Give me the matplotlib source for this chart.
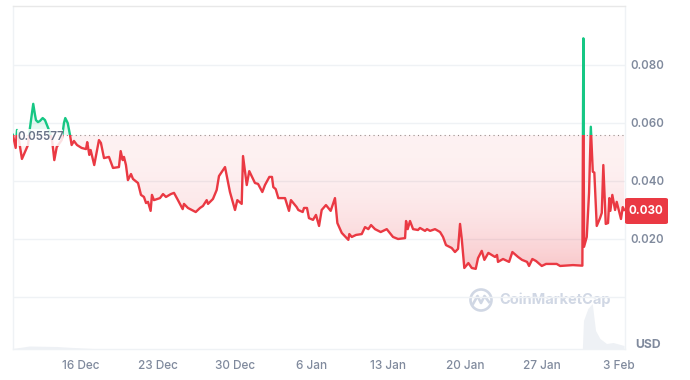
import matplotlib
matplotlib.use('Agg')
import matplotlib.pyplot as plt
import numpy as np
from matplotlib.patches import FancyBboxPatch, Circle, Rectangle
from matplotlib.lines import Line2D

plt.rcParams['font.family'] = ['Inter', 'DejaVu Sans']

# days since 16 Dec
days = [-6.20, -5.95, -5.83, -5.65, -5.38, -5.11, -4.83, -4.65, -4.35, -4.19, -4.10, -3.92, -3.74, -3.49, -3.28,
        -3.10, -2.92, -2.64, -2.53, -2.43, -2.21, -1.76, -1.55, -1.43, -1.21, -1.00, -0.85, -0.64, -0.36, 0.06,
        0.46, 0.57, 0.76, 0.88, 1.21, 1.64, 1.82, 2.10, 2.55, 2.92, 3.46, 3.62, 3.80, 3.92, 4.10,
        4.28, 4.56, 4.74, 5.20, 5.47, 5.74, 5.93, 6.11, 6.35, 6.47, 6.65, 7.20, 7.48, 7.75, 8.20,
        8.48, 8.84, 9.27, 9.39, 9.75, 10.46, 10.85, 11.12, 11.46, 11.58, 12.03, 12.37, 12.58, 13.13, 13.58,
        14.04, 14.25, 14.65, 14.77, 15.11, 15.34, 15.65, 15.86, 16.14, 16.53, 16.77, 17.17, 17.41, 17.53, 17.75,
        17.99, 18.60, 18.96, 19.14, 19.66, 19.81, 20.21, 20.33, 20.60, 20.78, 21.15, 21.42, 21.70, 21.94, 22.33,
        22.76, 23.15, 23.37, 23.77, 24.37, 24.46, 24.68, 25.07, 25.59, 25.89, 26.19, 26.44, 26.80, 27.32, 27.87,
        28.44, 28.90, 29.54, 29.63, 29.78, 29.99, 30.27, 30.72, 30.90, 31.36, 31.54, 31.82, 32.27, 32.73, 33.00,
        33.27, 33.79, 34.09, 34.37, 34.55, 34.70, 34.94, 35.31, 35.62, 35.98, 36.19, 36.53, 36.77, 37.13, 37.74,
        37.92, 38.01, 38.47, 39.02, 39.32, 39.84, 40.20, 40.66, 40.84, 41.14, 41.48, 42.00, 42.39, 43.36, 43.67,
        44.85, 45.70, 45.79, 45.85, 46.10, 46.31, 46.47, 46.65, 46.79, 47.01, 47.31, 47.47, 47.61, 47.83, 48.04,
        48.16, 48.25, 48.43, 48.68, 48.83, 49.22, 49.38, 49.52]
prices = [.0559, .0514, .0576, .0541, .0476, .0500, .0524, .0583, .0666, .0628, .0610, .0603, .0607, .0617, .0610,
          .0593, .0576, .0541, .0507, .0472, .0517, .0541, .0600, .0617, .0600, .0559, .0524, .0538, .0524, .0514,
          .0510, .0534, .0490, .0507, .0455, .0541, .0531, .0479, .0483, .0445, .0448, .0503, .0472, .0483, .0455,
          .0403, .0424, .0407, .0393, .0352, .0345, .0324, .0328, .0297, .0352, .0334, .0341, .0355, .0345, .0355,
          .0359, .0334, .0303, .0321, .0307, .0293, .0307, .0314, .0334, .0321, .0338, .0369, .0417, .0448, .0362,
          .0300, .0334, .0321, .0486, .0386, .0434, .0410, .0393, .0390, .0362, .0386, .0414, .0414, .0379, .0372,
          .0341, .0341, .0297, .0334, .0310, .0300, .0293, .0307, .0307, .0272, .0266, .0283, .0245, .0300, .0317,
          .0297, .0341, .0255, .0221, .0197, .0217, .0207, .0214, .0217, .0241, .0234, .0248, .0234, .0224, .0234,
          .0207, .0200, .0203, .0262, .0234, .0262, .0234, .0231, .0238, .0228, .0234, .0228, .0234, .0224, .0207,
          .0179, .0169, .0155, .0166, .0252, .0203, .0100, .0117, .0100, .0097, .0134, .0159, .0128, .0152, .0138,
          .0145, .0121, .0131, .0121, .0155, .0138, .0128, .0121, .0107, .0131, .0124, .0107, .0114, .0114, .0107,
          .0110, .0108, .0892, .0173, .0207, .0359, .0587, .0432, .0429, .0245, .0272, .0290, .0455, .0252, .0255,
          .0341, .0297, .0352, .0300, .0328, .0269, .0310, .0300]

vol_days = [-6.24, -4.7, -2.2, -1.0, 1.1, 45.7, 45.8, 46.2, 46.6, 46.9, 47.3, 47.9, 48.5, 49.5]
volumes = [0, 2.5, 2, 1.2, 0, 0, 28, 40, 45, 18, 10, 5, 6, 3]

base_price = 0.05577
last_price = '0.030'
y_ticks = [0.0, 0.02, 0.04, 0.06, 0.08]
y_labels = ['', '0.020', '0.040', '0.060', '0.080']
x_ticks = [0, 7, 14, 21, 28, 35, 42, 49]
x_labels = ['16 Dec', '23 Dec', '30 Dec', '6 Jan', '13 Jan', '20 Jan', '27 Jan', '3 Feb']

RED = '#ea3943'
GREEN = '#16c784'
GREY = '#808a9d'
GRID = '#eff2f5'

days = np.array(days)
prices = np.array(prices)

fig = plt.figure(figsize=(6.9, 3.8), dpi=100)
ax = fig.add_axes([12.5 / 690, 1 - 348.5 / 380, 612 / 690, 342.5 / 380])
ax.set_xlim(-6.24, 49.54)
ax.set_ylim(-0.01776, 0.10034)
ax.set_zorder(2)
ax.patch.set_alpha(0)

# volume pane, own scale in the bottom part
vax = fig.add_axes(ax.get_position(), sharex=ax)
vax.set_ylim(0, 342.5)
vax.set_axis_off()
vax.set_zorder(1)
vax.fill_between(vol_days, volumes, 0, color='#eef1f5', lw=0, zorder=1)
ax.set_xlim(-6.24, 49.54)

for s in ['left', 'right', 'bottom']:
    ax.spines[s].set_color(GRID)
    ax.spines[s].set_linewidth(1)
ax.spines['top'].set_color('#e8e8e8')
ax.spines['top'].set_linewidth(1)

ax.set_yticks(y_ticks)
ax.set_yticklabels(y_labels, fontsize=8.3, fontweight='semibold', color=GREY)
ax.yaxis.tick_right()
ax.set_xticks(x_ticks)
ax.set_xticklabels(x_labels, fontsize=8.5, fontweight='medium', color=GREY)
ax.tick_params(axis='both', length=0)
ax.tick_params(axis='y', pad=4.5)
ax.tick_params(axis='x', pad=8)
ax.grid(axis='y', color=GRID, linewidth=1)
ax.set_axisbelow(True)


def gradient_fill(low, high, rgb, alphas, path):
    n = 256
    img = np.zeros((n, 2, 4))
    img[:, :, 0:3] = rgb
    img[:, :, 3] = alphas[:, None]
    im = ax.imshow(img, extent=(-6.24, 49.54, low, high), aspect='auto', zorder=2, interpolation='bilinear')
    im.set_clip_path(path, transform=ax.transData)


red_poly = ax.fill_between(days, np.minimum(prices, base_price), base_price, color='none', lw=0)
green_poly = ax.fill_between(days, np.maximum(prices, base_price), base_price, color='none', lw=0)
# red stays pale for most of the height and gets strong near the bottom
t = np.linspace(0, 1, 256)
gradient_fill(0.009, base_price, (0.918, 0.224, 0.263), 0.07 + 0.22 * t ** 2.2, red_poly.get_paths()[0])
gradient_fill(base_price, 0.0892, (0.086, 0.78, 0.518), 0.30 - 0.22 * t, green_poly.get_paths()[0])
ax.set_xlim(-6.24, 49.54)
ax.set_ylim(-0.01776, 0.10034)

ax.axhline(base_price, color='#9a8f8c', lw=0.8, dashes=(1, 3), zorder=3)

red_line, = ax.plot(days, prices, color=RED, lw=1.7, zorder=4, solid_joinstyle='round')
green_line, = ax.plot(days, prices, color=GREEN, lw=1.7, zorder=4, solid_joinstyle='round')
red_line.set_clip_path(Rectangle((-6.24, -0.02), 55.78, 0.02 + base_price, transform=ax.transData))
green_line.set_clip_path(Rectangle((-6.24, base_price), 55.78, 0.05, transform=ax.transData))


# label of the start price
def px(x, y):
    return x / 690, 1 - y / 380


x0, y0 = px(17, 146)
fig.add_artist(FancyBboxPatch((x0, y0), 46 / 690, 17 / 380, boxstyle='round,pad=0,rounding_size=0.004',
                              fc='white', ec='none', alpha=0.85, zorder=5, transform=fig.transFigure))
fig.text(*px(40.5, 137), '0.05577', fontsize=8.3, fontweight='semibold', color='#687387',
         ha='center', va='center', zorder=6)

# last price tag
x0, y0 = px(625, 224)
fig.add_artist(FancyBboxPatch((x0, y0), 43 / 690, 26 / 380, boxstyle='round,pad=0,rounding_size=0.004',
                              fc=RED, ec='none', zorder=5, transform=fig.transFigure))
fig.text(*px(646, 211), last_price, fontsize=8.3, fontweight='bold', color='white',
         ha='center', va='center', zorder=6)

fig.text(*px(648.5, 345.5), 'USD', fontsize=8.8, fontweight='bold', color=GREY, ha='center', va='center')

# watermark
wm = '#d0d7e4'
fig.text(*px(499.5, 300), 'CoinMarketCap', fontsize=10.5, fontweight='bold', color=wm,
         ha='left', va='center', zorder=1)
wax = fig.add_axes([469 / 690, 1 - 312 / 380, 24 / 690, 24 / 380])
wax.set_xlim(-12, 12)
wax.set_ylim(-12, 12)
wax.set_axis_off()
wax.add_patch(Circle((0, 0), 10.5, fc='none', ec=wm, lw=1.9))
wax.add_line(Line2D([-8, -3.5, 0, 3.5, 8], [-4, 4, -3, 4, -2], color=wm, lw=1.9, solid_joinstyle='round'))

fig.savefig('out.png', dpi=100)
